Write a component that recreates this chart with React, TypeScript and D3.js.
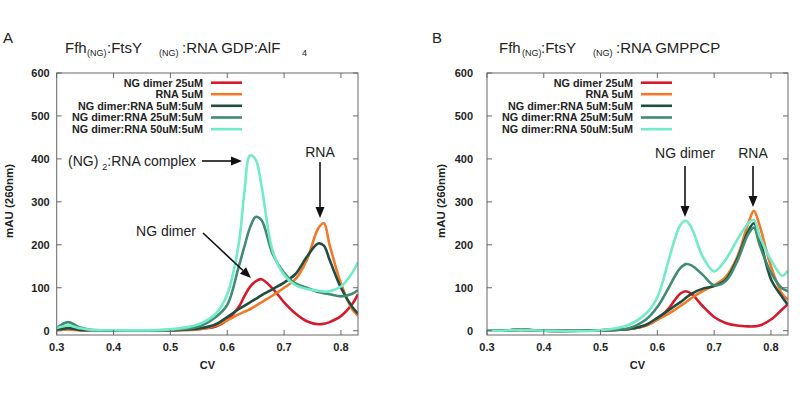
import React from 'react';
import * as d3 from 'd3';

// shared CV sample positions
const cv = [0.30, 0.32, 0.34, 0.36, 0.40, 0.50, 0.55, 0.58, 0.60, 0.62, 0.63, 0.64, 0.65, 0.66, 0.68, 0.70, 0.72, 0.74, 0.76, 0.77, 0.78, 0.80, 0.82, 0.83];

const seriesNames = [
  'NG dimer 25uM',
  'RNA 5uM',
  'NG dimer:RNA 5uM:5uM',
  'NG dimer:RNA 25uM:5uM',
  'NG dimer:RNA 50uM:5uM',
];
const seriesColors = ['#d8192c', '#f07a2a', '#1f4d40', '#3f8c72', '#72ebc8'];

// Panel A: GDP:AlF4
const aNgDimer25 = [3, 4, 2, 1, 0, 1, 4, 10, 25, 55, 80, 102, 115, 120, 98, 66, 40, 22, 15, 16, 20, 34, 62, 85];
const aRna5 = [1, 3, 1, 1, 0, 1, 3, 12, 24, 38, 44, 50, 58, 66, 82, 100, 120, 165, 238, 250, 200, 110, 50, 35];
const aMix5 = [2, 6, 2, 1, 0, 1, 5, 15, 32, 50, 58, 66, 74, 82, 97, 112, 132, 172, 203, 198, 165, 100, 55, 40];
const aMix25 = [6, 20, 8, 2, 1, 2, 10, 32, 60, 148, 195, 240, 265, 258, 178, 135, 110, 100, 90, 87, 85, 80, 86, 95];
const aMix50 = [6, 12, 6, 2, 1, 3, 15, 40, 85, 200, 320, 408, 398, 340, 185, 130, 106, 97, 93, 91, 92, 103, 135, 160];

// Panel B: GMPPCP
const bNgDimer25 = [0, 0, 1, 2, 0, 1, 4, 12, 26, 52, 70, 86, 92, 86, 57, 32, 18, 12, 10, 10, 12, 26, 50, 62];
const bRna5 = [0, 0, 1, 2, 0, 1, 4, 12, 26, 40, 48, 57, 66, 76, 92, 106, 125, 170, 250, 279, 245, 150, 85, 73];
const bMix5 = [0, 0, 1, 3, 0, 1, 4, 14, 30, 48, 57, 66, 76, 86, 98, 104, 118, 165, 232, 250, 215, 120, 78, 60];
const bMix25 = [0, 0, 1, 2, 0, 1, 6, 26, 55, 100, 125, 145, 155, 152, 130, 106, 115, 160, 225, 240, 200, 135, 98, 92];
const bMix50 = [0, 0, 1, 2, 0, 1, 14, 40, 78, 165, 210, 245, 256, 240, 172, 138, 165, 210, 250, 258, 220, 165, 128, 140];

const xTicks = [0.3, 0.4, 0.5, 0.6, 0.7, 0.8];
const yTicks = [0, 100, 200, 300, 400, 500, 600];
const xDomain = [0.3, 0.83];
const yDomain = [-10, 600];

const bold = 'Liberation Sans, Arial, sans-serif';

type PanelProps = {
  id: string;
  left: number;
  right: number;
  series: number[][];
  yLabelX: number;
  yTickGap: number;
  legendX: number;
  children?: React.ReactNode;
};

function Panel({ id, left, right, series, yLabelX, yTickGap, legendX, children }: PanelProps) {
  const top = 73;
  const bottom = 335;
  const x = d3.scaleLinear().domain(xDomain).range([left, right]);
  const y = d3.scaleLinear().domain(yDomain).range([bottom, top]);
  const line = d3
    .line<number>()
    .x((_, i) => x(cv[i]))
    .y((d) => y(d))
    .curve(d3.curveCatmullRom.alpha(0.5));
  const tickLen = 5;
  const frame = '#666';
  const legendRows = [82.7, 94.2, 105.8, 117.5, 129.2];
  return (
    <g>
      <defs>
        <clipPath id={'clip' + id}>
          <rect x={left} y={top} width={right - left} height={bottom - top} />
        </clipPath>
      </defs>
      <g clipPath={`url(#clip${id})`}>
        {series.map((s, i) => (
          <path key={i} d={line(s) || ''} fill="none" stroke={seriesColors[i]} strokeWidth={2.6} strokeLinejoin="round" />
        ))}
      </g>
      <rect x={left} y={top} width={right - left} height={bottom - top} fill="none" stroke={frame} strokeWidth={1} />
      {xTicks.map((t) => (
        <g key={'x' + t}>
          <line x1={x(t)} x2={x(t)} y1={bottom} y2={bottom - tickLen} stroke={frame} />
          <line x1={x(t)} x2={x(t)} y1={top} y2={top + tickLen} stroke={frame} />
          <text x={x(t)} y={351} textAnchor="middle" fontFamily={bold} fontWeight="bold" fontSize={11} fill="#222">
            {t.toFixed(1)}
          </text>
        </g>
      ))}
      {yTicks.map((t) => (
        <g key={'y' + t}>
          <line x1={left} x2={left + tickLen} y1={y(t)} y2={y(t)} stroke={frame} />
          <line x1={right} x2={right - tickLen} y1={y(t)} y2={y(t)} stroke={frame} />
          <text x={left - yTickGap} y={y(t) + 4} textAnchor="end" fontFamily={bold} fontWeight="bold" fontSize={11} fill="#222">
            {t}
          </text>
        </g>
      ))}
      <text x={(left + right) / 2} y={369} textAnchor="middle" fontFamily={bold} fontWeight="bold" fontSize={11} fill="#222">
        CV
      </text>
      <text
        transform={`translate(${yLabelX},201) rotate(-90)`}
        textAnchor="middle"
        fontFamily={bold}
        fontWeight="bold"
        fontSize={11.5}
        fill="#222"
      >
        mAU (260nm)
      </text>
      {seriesNames.map((n, i) => (
        <g key={n}>
          <text x={legendX} y={legendRows[i] + 3.8} textAnchor="end" fontFamily={bold} fontWeight="bold" fontSize={10.8} fill="#222">
            {n}
          </text>
          <line x1={legendX + 8} x2={legendX + 39} y1={legendRows[i]} y2={legendRows[i]} stroke={seriesColors[i]} strokeWidth={2.6} />
        </g>
      ))}
      {children}
    </g>
  );
}

const reg = 'Liberation Sans, Arial, sans-serif';

function Arrow({ x1, y1, x2, y2 }: { x1: number; y1: number; x2: number; y2: number }) {
  const ang = Math.atan2(y2 - y1, x2 - x1);
  const len = 11;
  const w = 4.5;
  const bx = x2 - len * Math.cos(ang);
  const by = y2 - len * Math.sin(ang);
  const px = -Math.sin(ang) * w;
  const py = Math.cos(ang) * w;
  return (
    <g>
      <line x1={x1} y1={y1} x2={bx} y2={by} stroke="#111" strokeWidth={1.6} />
      <path d={`M${x2},${y2}L${bx + px},${by + py}L${bx - px},${by - py}Z`} fill="#111" />
    </g>
  );
}

export default function App() {
  return (
    <svg width={800} height={403} style={{ display: 'block', position: 'absolute', left: 0, top: 0 }}>
      <rect width={800} height={403} fill="#fff" />
      {/* Panel letters and titles */}
      <text x={3} y={43} fontFamily={reg} fontSize={15} fill="#222">A</text>
      <text x={432} y={43} fontFamily={reg} fontSize={15} fill="#222">B</text>

      <g fontFamily={reg} fill="#222">
        <text x={65} y={53} fontSize={15}>Ffh</text>
        <text x={87} y={56} fontSize={9}>(NG)</text>
        <text x={107} y={53} fontSize={15}>:FtsY</text>
        <text x={159} y={56} fontSize={9}>(NG)</text>
        <text x={182} y={53} fontSize={15}>:RNA GDP:AlF</text>
        <text x={302} y={56} fontSize={9}>4</text>

        <text x={499} y={53} fontSize={15}>Ffh</text>
        <text x={522} y={56} fontSize={9}>(NG)</text>
        <text x={541} y={53} fontSize={15}>:FtsY</text>
        <text x={593} y={56} fontSize={9}>(NG)</text>
        <text x={616} y={53} fontSize={15}>:RNA GMPPCP</text>
      </g>

      <Panel
        id="A"
        left={56.7}
        right={358}
        series={[aNgDimer25, aRna5, aMix5, aMix25, aMix50]}
        yLabelX={13}
        yTickGap={7}
        legendX={203}
      >
        <text x={68} y={166} fontFamily={reg} fontSize={14} fill="#222">
          (NG)
          <tspan dx={4} dy={4} fontSize={9}>2</tspan>
          <tspan dy={-4}>:RNA complex</tspan>
        </text>
        <Arrow x1={202} y1={161} x2={242} y2={161} />
        <text x={320} y={157} textAnchor="middle" fontFamily={reg} fontSize={14} fill="#222">RNA</text>
        <Arrow x1={320} y1={162} x2={320} y2={218} />
        <text x={166} y={236} textAnchor="middle" fontFamily={reg} fontSize={14} fill="#222">NG dimer</text>
        <Arrow x1={203} y1={233} x2={251} y2={278} />
      </Panel>

      <Panel
        id="B"
        left={487}
        right={788}
        series={[bNgDimer25, bRna5, bMix5, bMix25, bMix50]}
        yLabelX={445}
        yTickGap={14}
        legendX={633}
      >
        <text x={685} y={158} textAnchor="middle" fontFamily={reg} fontSize={14} fill="#222">NG dimer</text>
        <Arrow x1={685} y1={166} x2={685} y2={217} />
        <text x={753} y={158} textAnchor="middle" fontFamily={reg} fontSize={14} fill="#222">RNA</text>
        <Arrow x1={753} y1={166} x2={753} y2={207} />
      </Panel>
    </svg>
  );
}
